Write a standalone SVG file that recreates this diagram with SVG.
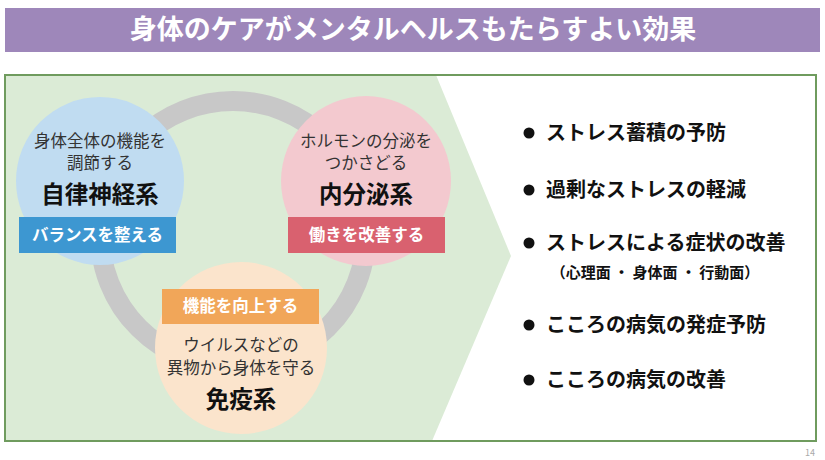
<svg xmlns="http://www.w3.org/2000/svg" width="825" height="460" viewBox="0 0 825 460">
<style>
text{font-family:"Noto Sans CJK JP","Noto Sans",sans-serif;text-anchor:middle;}
.desc{font-size:16.5px;fill:#333;}
.name{font-size:23.5px;font-weight:bold;fill:#111;}
.lbl{font-size:16.5px;font-weight:bold;fill:#fff;}
.item{font-size:20px;font-weight:bold;fill:#111;text-anchor:start;}
</style>
<rect width="825" height="460" fill="#fff"/>
<g id="title">
<rect x="5" y="8" width="815" height="44" fill="#9e87ba"/>
<text x="413" y="39" font-size="27" font-weight="bold" fill="#fff">身体のケアがメンタルヘルスもたらすよい効果</text>
</g>
<g id="panel">
<rect x="5" y="75" width="811" height="366" fill="#fff"/>
<polygon points="5,75 436,75 511,256 432,441 5,441" fill="#dbebd6"/>
<rect x="5" y="75" width="811" height="366" fill="none" stroke="#6f9b5e" stroke-width="2"/>
</g>
<g id="connectors">
<circle cx="233" cy="234" r="133" fill="none" stroke="#c8c8c8" stroke-width="20"/>
</g>
<g id="autonomic">
<circle cx="100" cy="181" r="84" fill="#c0dcf1"/>
<text class="desc" x="100" y="147">身体全体の機能を</text>
<text class="desc" x="100" y="169">調節する</text>
<text class="name" x="100" y="203">自律神経系</text>
<rect x="19" y="217" width="157" height="36" fill="#3d97d1"/>
<text class="lbl" x="97.5" y="241">バランスを整える</text>
</g>
<g id="endocrine">
<circle cx="366" cy="181" r="85" fill="#f3c9cf"/>
<text class="desc" x="366" y="147">ホルモンの分泌を</text>
<text class="desc" x="366" y="169">つかさどる</text>
<text class="name" x="366" y="203">内分泌系</text>
<rect x="288" y="217" width="157" height="36" fill="#d9616f"/>
<text class="lbl" x="366.5" y="241">働きを改善する</text>
</g>
<g id="immune">
<circle cx="241" cy="348" r="86" fill="#fbe4cc"/>
<rect x="162" y="289" width="157" height="35" fill="#f1a659"/>
<text class="lbl" x="240.5" y="312">機能を向上する</text>
<text class="desc" x="241" y="351">ウイルスなどの</text>
<text class="desc" x="241" y="374">異物から身体を守る</text>
<text class="name" x="241" y="408">免疫系</text>
</g>
<g id="effects">
<g fill="#111">
<circle cx="529" cy="133" r="5.5"/>
<circle cx="529" cy="190" r="5.5"/>
<circle cx="529" cy="243" r="5.5"/>
<circle cx="529" cy="325" r="5.5"/>
<circle cx="529" cy="380" r="5.5"/>
</g>
<text class="item" x="546" y="140">ストレス蓄積の予防</text>
<text class="item" x="546" y="197">過剰なストレスの軽減</text>
<text class="item" x="546" y="250">ストレスによる症状の改善</text>
<text x="655" y="278" font-size="15" font-weight="bold" fill="#111">（心理面 ・ 身体面 ・ 行動面）</text>
<text class="item" x="546" y="332">こころの病気の発症予防</text>
<text class="item" x="546" y="387">こころの病気の改善</text>
</g>
<text x="810" y="456" font-size="9" fill="#aaa">14</text>
</svg>
